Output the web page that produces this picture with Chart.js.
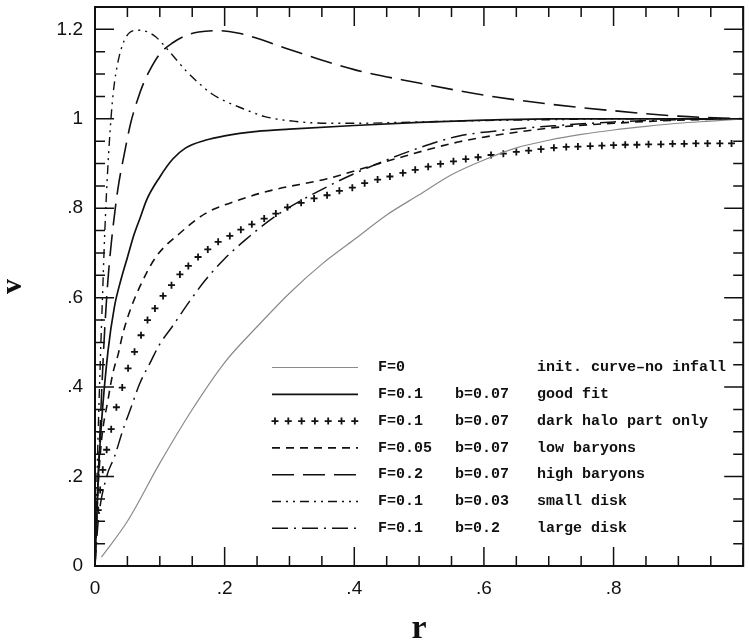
<!DOCTYPE html>
<html>
<head>
<meta charset="utf-8">
<script src="https://cdn.jsdelivr.net/npm/chart.js@4.4.1/dist/chart.umd.min.js"></script>
<style>
    html, body { margin: 0; padding: 0; background: #fff; }
    #wrap { width: 749px; height: 644px; position: relative; }
</style>
</head>
<body>
<div id="wrap"><canvas id="rotation-curves"></canvas></div>
<script>
// values: r along the x axis, v along the y axis
const noInfallR = [0.01, 0.05, 0.1, 0.15, 0.2, 0.25, 0.3, 0.35, 0.4, 0.45, 0.5, 0.55, 0.6, 0.65, 0.7, 0.75, 0.8, 0.85, 0.9, 0.95, 1.0];
const noInfallV = [0.02, 0.10, 0.23, 0.35, 0.455, 0.535, 0.61, 0.675, 0.73, 0.785, 0.83, 0.875, 0.908, 0.935, 0.952, 0.965, 0.975, 0.983, 0.99, 0.995, 1.0];

const goodFitR = [0, 0.005, 0.01, 0.02, 0.03, 0.04, 0.05, 0.06, 0.07, 0.08, 0.1, 0.12, 0.14, 0.17, 0.2, 0.25, 0.3, 0.4, 0.5, 0.6, 0.7, 0.8, 0.9, 1.0];
const goodFitV = [0, 0.2, 0.32, 0.48, 0.58, 0.64, 0.69, 0.74, 0.78, 0.82, 0.87, 0.91, 0.935, 0.952, 0.962, 0.972, 0.977, 0.985, 0.992, 0.997, 1.0, 1.0, 1.0, 1.0];

const darkHaloR = [0.005, 0.008, 0.012, 0.018, 0.025, 0.033, 0.042, 0.051, 0.061, 0.071, 0.081, 0.0925, 0.105, 0.118, 0.131, 0.144, 0.159, 0.174, 0.19, 0.208,
    0.225, 0.242, 0.261, 0.279, 0.297, 0.318, 0.338, 0.358, 0.377, 0.397, 0.416, 0.436, 0.455, 0.475, 0.494, 0.514, 0.533, 0.553, 0.572, 0.591,
    0.611, 0.630, 0.650, 0.669, 0.688, 0.708, 0.727, 0.745, 0.764, 0.782, 0.800, 0.818, 0.836, 0.854, 0.873, 0.891, 0.909, 0.927, 0.945, 0.964, 0.982];
const darkHaloV = [0.125, 0.17, 0.215, 0.26, 0.306, 0.355, 0.399, 0.442, 0.479, 0.516, 0.55, 0.576, 0.604, 0.628, 0.652, 0.671, 0.691, 0.708, 0.725, 0.738,
    0.752, 0.764, 0.777, 0.788, 0.802, 0.812, 0.822, 0.829, 0.839, 0.846, 0.856, 0.864, 0.871, 0.879, 0.886, 0.893, 0.899, 0.905, 0.910, 0.914,
    0.919, 0.922, 0.926, 0.929, 0.932, 0.935, 0.937, 0.938, 0.939, 0.940, 0.941, 0.942, 0.942, 0.943, 0.943, 0.944, 0.944, 0.945, 0.945, 0.945, 0.945];

const lowBaryonsR = [0, 0.005, 0.01, 0.02, 0.028, 0.036, 0.043, 0.055, 0.069, 0.094, 0.13, 0.17, 0.221, 0.272, 0.358, 0.45, 0.56, 0.65, 0.72, 0.8, 0.9, 1.0];
const lowBaryonsV = [0, 0.18, 0.28, 0.371, 0.434, 0.475, 0.52, 0.575, 0.624, 0.691, 0.743, 0.788, 0.818, 0.84, 0.866, 0.905, 0.948, 0.97, 0.982, 0.99, 0.997, 1.0];

const highBaryonsR = [0, 0.005, 0.01, 0.015, 0.02, 0.025, 0.035, 0.045, 0.055, 0.065, 0.075, 0.085, 0.1, 0.12, 0.14, 0.16, 0.19, 0.22, 0.25, 0.3, 0.4, 0.5, 0.6, 0.7, 0.8, 0.9, 1.0];
const highBaryonsV = [0, 0.2, 0.38, 0.53, 0.64, 0.72, 0.84, 0.92, 0.99, 1.04, 1.08, 1.11, 1.145, 1.17, 1.186, 1.194, 1.197, 1.192, 1.18, 1.155, 1.11, 1.08, 1.053, 1.033, 1.018, 1.006, 1.0];

const smallDiskR = [0, 0.004, 0.008, 0.012, 0.015, 0.019, 0.023, 0.028, 0.036, 0.048, 0.066, 0.08, 0.094, 0.109, 0.125, 0.14, 0.16, 0.18, 0.2, 0.221, 0.262, 0.31, 0.36, 0.4, 0.5, 0.6, 0.7, 0.8, 0.9, 1.0];
const smallDiskV = [0, 0.25, 0.45, 0.62, 0.743, 0.87, 0.967, 1.056, 1.131, 1.183, 1.198, 1.195, 1.183, 1.16, 1.133, 1.108, 1.08, 1.056, 1.04, 1.027, 1.005, 0.994, 0.99, 0.99, 0.993, 0.996, 0.998, 1.0, 1.0, 1.0];

const largeDiskR = [0, 0.005, 0.018, 0.03, 0.043, 0.056, 0.069, 0.086, 0.099, 0.119, 0.145, 0.17, 0.2, 0.231, 0.277, 0.358, 0.42, 0.5, 0.56, 0.64, 0.714, 0.8, 0.9, 1.0];
const largeDiskV = [0, 0.1, 0.2, 0.244, 0.304, 0.356, 0.408, 0.457, 0.494, 0.535, 0.59, 0.639, 0.687, 0.728, 0.781, 0.848, 0.89, 0.935, 0.961, 0.976, 0.985, 0.993, 0.998, 1.0];

const xTickValues = [0, 0.2, 0.4, 0.6, 0.8, 1];
const yTickValues = [0, 0.2, 0.4, 0.6, 0.8, 1, 1.2];
const minorStep = 0.05;

const legendF = ['F=0', 'F=0.1', 'F=0.1', 'F=0.05', 'F=0.2', 'F=0.1', 'F=0.1'];
const legendB = ['', 'b=0.07', 'b=0.07', 'b=0.07', 'b=0.07', 'b=0.03', 'b=0.2'];
const legendText = ['init. curve\u2013no infall', 'good fit', 'dark halo part only', 'low baryons', 'high baryons', 'small disk', 'large disk'];

function pairs(rs, vs) {
    return rs.map(function (r, i) { return {x: r, y: vs[i]}; });
}

function format_tick(value) {
    if (value === 0) return '0';
    return String(Math.round(value * 10) / 10).replace(/^0\./, '.');
}

function drawCross(ctx, x, y, s) {
    ctx.beginPath();
    ctx.moveTo(x - s, y); ctx.lineTo(x + s, y);
    ctx.moveTo(x, y - s); ctx.lineTo(x, y + s);
    ctx.stroke();
}

// box with inward tick marks on all four sides
const frameTicks = {
    id: 'frameTicks',
    afterDatasetsDraw(chart) {
        const {ctx, chartArea: a, scales: {x, y}} = chart;
        ctx.save();
        ctx.strokeStyle = '#111';
        ctx.lineWidth = 2;
        ctx.strokeRect(a.left, a.top, a.right - a.left, a.bottom - a.top);
        ctx.lineWidth = 1.5;
        ctx.beginPath();
        for (let k = 0; k * minorStep <= x.max + 1e-9; k++) {
            const px = x.getPixelForValue(k * minorStep);
            const len = k % 4 === 0 ? 19 : 10;
            ctx.moveTo(px, a.bottom); ctx.lineTo(px, a.bottom - len);
            ctx.moveTo(px, a.top); ctx.lineTo(px, a.top + len);
        }
        for (let k = 0; k * minorStep <= y.max + 1e-9; k++) {
            const py = y.getPixelForValue(k * minorStep);
            const len = k % 4 === 0 ? 19 : 10;
            ctx.moveTo(a.left, py); ctx.lineTo(a.left + len, py);
            ctx.moveTo(a.right, py); ctx.lineTo(a.right - len, py);
        }
        ctx.stroke();
        ctx.restore();
    }
};

// three column key inside the plot, lower right
const legendRows = {
    id: 'legendRows',
    afterDatasetsDraw(chart) {
        const ctx = chart.ctx;
        ctx.save();
        ctx.font = 'bold 15px "Liberation Mono", monospace';
        ctx.fillStyle = '#111';
        ctx.textBaseline = 'middle';
        chart.data.datasets.forEach(function (ds, i) {
            const y = 367.5 + i * 26.8;
            ctx.strokeStyle = ds.borderColor;
            ctx.lineWidth = ds.borderWidth;
            if (ds.showLine === false) {
                for (let k = 0; k < 7; k++) drawCross(ctx, 275 + k * 13.3, y, 3.5);
            } else {
                ctx.setLineDash(ds.borderDash || []);
                ctx.beginPath();
                ctx.moveTo(272, y);
                ctx.lineTo(358, y);
                ctx.stroke();
                ctx.setLineDash([]);
            }
            ctx.fillText(legendF[i], 378, y);
            ctx.fillText(legendB[i], 455, y);
            ctx.fillText(legendText[i], 537, y);
        });
        ctx.restore();
    }
};

const tickFont = {family: '"Liberation Sans", Arial, sans-serif', size: 19};
const titleFamily = '"Liberation Serif", "Times New Roman", serif';

const curveConfig = {
    type: 'scatter',
    data: {
        datasets: [
            {label: 'F=0', data: pairs(noInfallR, noInfallV), showLine: true, borderColor: '#8a8a8a', borderWidth: 1.2, pointRadius: 0},
            {label: 'good fit', data: pairs(goodFitR, goodFitV), showLine: true, borderColor: '#111', borderWidth: 1.7, pointRadius: 0},
            {label: 'dark halo part only', data: pairs(darkHaloR, darkHaloV), showLine: false, borderColor: '#111', backgroundColor: '#111',
                borderWidth: 1.8, pointStyle: 'cross', pointRadius: 3.5},
            {label: 'low baryons', data: pairs(lowBaryonsR, lowBaryonsV), showLine: true, borderColor: '#111', borderWidth: 1.6, borderDash: [8, 6], pointRadius: 0},
            {label: 'high baryons', data: pairs(highBaryonsR, highBaryonsV), showLine: true, borderColor: '#111', borderWidth: 1.6, borderDash: [22, 9], pointRadius: 0},
            {label: 'small disk', data: pairs(smallDiskR, smallDiskV), showLine: true, borderColor: '#111', borderWidth: 1.4, borderDash: [9, 5, 2, 5, 2, 5], pointRadius: 0},
            {label: 'large disk', data: pairs(largeDiskR, largeDiskV), showLine: true, borderColor: '#111', borderWidth: 1.5, borderDash: [16, 6, 2, 6], pointRadius: 0}
        ]
    },
    options: {
        responsive: true,
        maintainAspectRatio: false,
        animation: false,
        layout: {padding: {top: 7, right: 1, left: 0, bottom: 0}},
        elements: {line: {cubicInterpolationMode: 'monotone'}},
        scales: {
            x: {
                type: 'linear',
                min: 0,
                max: 1,
                afterBuildTicks: function (scale) {
                    scale.ticks = xTickValues.map(function (v) { return {value: v}; });
                },
                afterFit: function (scale) {
                    scale.height = 78;
                    scale.paddingLeft = 0;
                    scale.paddingRight = 0;
                },
                grid: {display: false, drawTicks: false},
                border: {display: false},
                ticks: {
                    padding: 11,
                    maxRotation: 0,
                    color: '#111',
                    font: tickFont,
                    callback: function (value) {
                        return value === 1 ? '' : format_tick(value);
                    }
                },
                title: {
                    display: true,
                    text: 'r',
                    color: '#111',
                    font: {family: titleFamily, size: 34, weight: 'bold', lineHeight: 0.8},
                    padding: {top: 0, bottom: 1}
                }
            },
            y: {
                type: 'linear',
                min: 0,
                max: 1.25,
                afterBuildTicks: function (scale) {
                    scale.ticks = yTickValues.map(function (v) { return {value: v}; });
                },
                afterFit: function (scale) {
                    scale.width = 95;
                    scale.paddingTop = 0;
                    scale.paddingBottom = 0;
                },
                grid: {display: false, drawTicks: false},
                border: {display: false},
                ticks: {
                    padding: 12,
                    color: '#111',
                    font: tickFont,
                    callback: function (value) {
                        return format_tick(value);
                    }
                },
                title: {
                    display: true,
                    text: 'v',
                    color: '#111',
                    font: {family: titleFamily, size: 30, weight: 'bold', lineHeight: 0.8},
                    padding: {top: 1.5, bottom: 0}
                }
            }
        },
        plugins: {
            legend: {display: false},
            tooltip: {enabled: false}
        }
    },
    plugins: [frameTicks, legendRows]
};

new Chart(document.getElementById('rotation-curves'), curveConfig);
</script>
</body>
</html>
